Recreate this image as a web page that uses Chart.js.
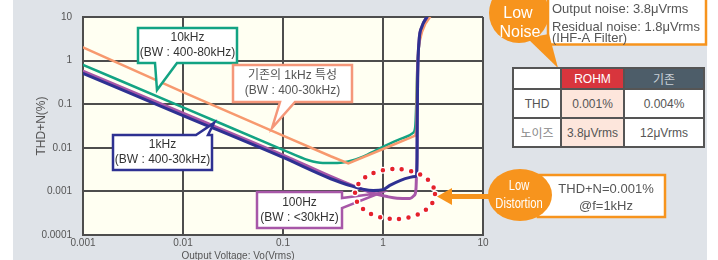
<!DOCTYPE html>
<html>
<head>
<meta charset="utf-8">
<script src="https://cdn.jsdelivr.net/npm/chart.js@4.4.0/dist/chart.umd.min.js"></script>
<style>
  body { margin: 0; background: #fff; font-family: 'Liberation Sans', Arial, 'Noto Sans CJK KR', sans-serif; }
  #wrap { position: relative; width: 718px; height: 260px; overflow: hidden; }
  #panel { position: absolute; left: 13px; top: 0; width: 694px; height: 260px; background: #dfe3e8; }
  #thdChart { position: absolute; left: 0; top: 0; }
  #specTable { position: absolute; left: 512px; top: 67px; border-collapse: collapse; table-layout: fixed; background: #fff; }
  #specTable td { border: 2px solid #555; text-align: center; font-size: 12px; color: #555; padding: 0; }
  #specTable tr:first-child td { height: 19px; }
  #specTable tr td { height: 27px; }
  #specTable td.rohm { background: #d8353d; color: #fff; }
  #specTable td.old { background: #4d5d69; color: #c9d1d8; }
  #specTable td.pink { background: #fde6dc; }
  #specTable td.kr { color: #888; }
</style>
</head>
<body>
<div id="wrap">
  <div id="panel"></div>
  <canvas id="thdChart" width="718" height="260"></canvas>
  <table id="specTable"></table>
</div>
<script>
// Axis ticks
const voTicks = [0.001, 0.01, 0.1, 1, 10];
const voTickLabels = ['0.001', '0.01', '0.1', '1', '10'];
const thdTicks = [0.0001, 0.001, 0.01, 0.1, 1, 10];
const thdTickLabels = ['0.0001', '0.001', '0.01', '0.1', '1', '10'];

// 1kHz (BW : 400-30kHz)
const blueVo  = [0.001, 0.01, 0.1, 0.3, 0.5, 0.65, 0.8, 1.0, 1.17, 1.5, 1.86, 2.1, 2.16, 2.19, 2.2, 2.22, 2.29, 2.45, 2.75];
const blueThd = [0.51, 0.055, 0.006, 0.00195, 0.0013, 0.0011, 0.00105, 0.0011, 0.00137, 0.0018, 0.0021, 0.0022, 0.0023, 0.006, 0.05, 0.4, 2.7, 6, 10];

// 100Hz (BW : <30kHz)
const purpleVo  = [0.001, 0.01, 0.1, 0.3, 0.5, 0.6, 0.73, 0.87, 1.1, 1.38, 1.86, 2.04, 2.1, 2.14, 2.16, 2.19, 2.2, 2.22, 2.29, 2.45, 2.75];
const purpleThd = [0.57, 0.062, 0.0068, 0.0022, 0.00135, 0.00115, 0.00097, 0.00086, 0.00076, 0.0007, 0.00069, 0.0008, 0.00088, 0.0012, 0.0022, 0.006, 0.05, 0.4, 2.7, 6, 10];

// 10kHz (BW : 400-80kHz)
const greenVo  = [0.001, 0.01, 0.1, 0.18, 0.25, 0.35, 0.5, 0.7, 1.0, 1.5, 2.0, 2.1, 2.15, 2.2, 2.3, 2.5, 2.85];
const greenThd = [0.8, 0.085, 0.009, 0.0052, 0.0045, 0.0045, 0.0052, 0.007, 0.0105, 0.016, 0.022, 0.03, 0.1, 0.6, 2.5, 6, 10];

// 기존의 1kHz 특성 (BW : 400-30kHz)
const orangeVo  = [0.001, 0.01, 0.1, 0.3, 0.45, 1.0, 2.1, 2.15, 2.17, 2.2, 2.25, 2.32, 2.45, 2.65, 2.95];
const orangeThd = [2.0, 0.19, 0.019, 0.0064, 0.0044, 0.0094, 0.019, 0.025, 0.12, 0.67, 1.6, 2.7, 4.5, 7, 10];

// comparison table
const tableHead = ['', 'ROHM', '기존'];
const thdRow = ['THD', '0.001%', '0.004%'];
const noiseRow = ['노이즈', '3.8μVrms', '12μVrms'];

const FONT = "'Liberation Sans', Arial, 'Noto Sans CJK KR', sans-serif";
const ORANGE = '#f7941d';

function toPoints(xs, ys) {
    return xs.map((x, i) => ({ x: x, y: ys[i] }));
}

function buildTable() {
    const table = document.getElementById('specTable');
    const widths = [46, 61, 78];
    [tableHead, thdRow, noiseRow].forEach((row, r) => {
        const tr = document.createElement('tr');
        row.forEach((text, c) => {
            const td = document.createElement('td');
            td.textContent = text;
            td.style.width = widths[c] + 'px';
            if (r === 0 && c === 1) td.className = 'rohm';
            else if (r === 0 && c === 2) td.className = 'old';
            else if (r > 0 && c === 1) td.className = 'pink';
            else if (r === 2 && c === 0) td.className = 'kr';
            tr.appendChild(td);
        });
        table.appendChild(tr);
    });
}

// callout box with a pointer, drawn as one outline
function drawCallout(ctx, box, ptr, color, lines, textColor) {
    const { x, y, w, h } = box;
    ctx.beginPath();
    ctx.moveTo(x, y);
    if (ptr.side === 'top') { ctx.lineTo(ptr.a, y); ctx.lineTo(ptr.tx, ptr.ty); ctx.lineTo(ptr.b, y); }
    ctx.lineTo(x + w, y);
    if (ptr.side === 'right') { ctx.lineTo(x + w, ptr.a); ctx.lineTo(ptr.tx, ptr.ty); ctx.lineTo(x + w, ptr.b); }
    ctx.lineTo(x + w, y + h);
    if (ptr.side === 'bottom') { ctx.lineTo(ptr.b, y + h); ctx.lineTo(ptr.tx, ptr.ty); ctx.lineTo(ptr.a, y + h); }
    ctx.lineTo(x, y + h);
    ctx.closePath();
    ctx.fillStyle = '#fff';
    ctx.fill();
    ctx.lineWidth = 2.5;
    ctx.lineJoin = 'miter';
    ctx.strokeStyle = color;
    ctx.stroke();
    ctx.fillStyle = textColor;
    ctx.font = '12px ' + FONT;
    ctx.textAlign = 'center';
    ctx.textBaseline = 'middle';
    const cy = y + h / 2;
    ctx.fillText(lines[0], x + w / 2, cy - 7.5);
    ctx.fillText(lines[1], x + w / 2, cy + 7.5);
}

const annotationPlugin = {
    id: 'annotations',
    beforeDraw(chart) {
        const { ctx, chartArea: a } = chart;
        ctx.save();
        ctx.fillStyle = '#fffff2';
        ctx.fillRect(a.left, a.top, a.right - a.left, a.bottom - a.top);
        ctx.restore();
    },
    afterDatasetsDraw(chart) {
        const ctx = chart.ctx;
        ctx.save();
        drawCallout(ctx, { x: 138, y: 28, w: 99, h: 35 }, { side: 'bottom', a: 155, b: 177, tx: 157, ty: 90 }, '#13a383', ['10kHz', '(BW : 400-80kHz)'], '#333');
        drawCallout(ctx, { x: 233, y: 65, w: 119, h: 37 }, { side: 'bottom', a: 280, b: 295, tx: 272, ty: 128 }, '#f5977a', ['기존의 1kHz 특성', '(BW : 400-30kHz)'], '#555');
        drawCallout(ctx, { x: 113, y: 135, w: 99, h: 35 }, { side: 'top', a: 196, b: 208, tx: 214, ty: 123 }, '#2e3192', ['1kHz', '(BW : 400-30kHz)'], '#333');
        drawCallout(ctx, { x: 257, y: 192, w: 85, h: 36 }, { side: 'right', a: 198, b: 208, tx: 380, ty: 193 }, '#a757a8', ['100Hz', '(BW : <30kHz)'], '#333');

        // dotted ring around the 0.001% region
        ctx.beginPath();
        ctx.ellipse(395, 194, 40, 25, 0, 0, Math.PI * 2);
        ctx.lineCap = 'round';
        ctx.setLineDash([0, 9.5]);
        ctx.strokeStyle = '#fff';
        ctx.lineWidth = 7;
        ctx.stroke();
        ctx.strokeStyle = '#e5222b';
        ctx.lineWidth = 4.5;
        ctx.stroke();
        ctx.setLineDash([]);
        ctx.restore();
    },
    afterDraw(chart) {
        const ctx = chart.ctx;
        ctx.save();
        // x axis title
        ctx.fillStyle = '#555';
        ctx.font = '10px ' + FONT;
        ctx.textAlign = 'center';
        ctx.textBaseline = 'alphabetic';
        ctx.fillText('Output Voltage: Vo(Vrms)', 238, 259);

        // arrow to Low Distortion
        ctx.strokeStyle = ORANGE;
        ctx.fillStyle = ORANGE;
        ctx.lineWidth = 5;
        ctx.beginPath();
        ctx.moveTo(449, 196.5);
        ctx.lineTo(495, 196.5);
        ctx.stroke();
        ctx.beginPath();
        ctx.moveTo(437, 196.5);
        ctx.lineTo(452, 188);
        ctx.lineTo(452, 205);
        ctx.closePath();
        ctx.fill();

        // Low Distortion box + oval
        ctx.fillStyle = '#fff';
        ctx.fillRect(538, 175, 127, 42);
        ctx.lineWidth = 2.5;
        ctx.strokeRect(538, 175, 127, 42);
        ctx.fillStyle = ORANGE;
        ctx.beginPath();
        ctx.ellipse(520, 195, 32, 26, 0, 0, Math.PI * 2);
        ctx.fill();
        ctx.fillStyle = '#555';
        ctx.font = '13px ' + FONT;
        ctx.textBaseline = 'middle';
        ctx.fillText('THD+N=0.001%', 606, 189);
        ctx.fillText('@f=1kHz', 606, 206);
        ctx.fillStyle = '#fff';
        ctx.save();
        ctx.translate(519, 0);
        ctx.scale(0.8, 1);
        ctx.font = '14px ' + FONT;
        ctx.fillText('Low', 0, 186);
        ctx.fillText('Distortion', 0, 204);
        ctx.restore();

        // Low Noise box + circle
        ctx.fillStyle = '#fff';
        ctx.fillRect(548, -3, 159, 48);
        ctx.strokeStyle = ORANGE;
        ctx.lineWidth = 2.5;
        ctx.strokeRect(548, -3, 158, 47.5);
        ctx.fillStyle = ORANGE;
        ctx.beginPath();
        ctx.moveTo(527, 38);
        ctx.lineTo(549, 34);
        ctx.lineTo(558, 68);
        ctx.closePath();
        ctx.fill();
        ctx.beginPath();
        ctx.arc(519, 13, 30, 0, Math.PI * 2);
        ctx.fill();
        ctx.fillStyle = '#fff';
        ctx.font = '16px ' + FONT;
        ctx.fillText('Low', 518, 14);
        ctx.fillText('Noise', 520, 33);
        ctx.fillStyle = '#555';
        ctx.font = '13px ' + FONT;
        ctx.textAlign = 'left';
        ctx.fillText('Output noise: 3.8μVrms', 552, 9);
        ctx.fillText('Residual noise: 1.8μVrms', 552, 27);
        ctx.fillText('(IHF-A Filter)', 552, 38);
        ctx.restore();
    }
};

function createThdChart() {
    const ctx = document.getElementById('thdChart');
    new Chart(ctx, {
        type: 'line',
        data: {
            datasets: [
                { label: '1kHz', data: toPoints(blueVo, blueThd), borderColor: '#2e3192', borderWidth: 3 },
                { label: '100Hz', data: toPoints(purpleVo, purpleThd), borderColor: '#a757a8', borderWidth: 3 },
                { label: '기존 1kHz', data: toPoints(orangeVo, orangeThd), borderColor: '#f7996e', borderWidth: 2.5, tension: 0, cubicInterpolationMode: 'default' },
                { label: '10kHz', data: toPoints(greenVo, greenThd), borderColor: '#13a383', borderWidth: 2.5 }
            ]
        },
        options: {
            responsive: false,
            animation: false,
            devicePixelRatio: 1,
            layout: { padding: { left: 13, right: 235, top: 15, bottom: 0 } },
            elements: {
                point: { radius: 0 },
                line: { cubicInterpolationMode: 'monotone', borderCapStyle: 'round', fill: false }
            },
            plugins: {
                legend: { display: false },
                tooltip: { enabled: false }
            },
            scales: {
                x: {
                    type: 'logarithmic',
                    min: 0.001,
                    max: 10,
                    afterBuildTicks: scale => { scale.ticks = voTicks.map(v => ({ value: v })); },
                    afterFit: scale => { scale.height = 25; },
                    ticks: {
                        callback: (value, index) => voTickLabels[index],
                        color: '#555',
                        font: { family: FONT, size: 10 },
                        padding: 2,
                        maxRotation: 0,
                        autoSkip: false
                    },
                    grid: { color: '#4d4d4d', lineWidth: 2, drawTicks: false },
                    border: { color: '#4d4d4d', width: 2 }
                },
                y: {
                    type: 'logarithmic',
                    min: 0.0001,
                    max: 10,
                    afterBuildTicks: scale => { scale.ticks = thdTicks.map(v => ({ value: v })); },
                    afterFit: scale => { scale.width = 70; },
                    ticks: {
                        callback: (value, index) => thdTickLabels[index],
                        color: '#555',
                        font: { family: FONT, size: 10 },
                        padding: 11,
                        autoSkip: false
                    },
                    title: {
                        display: true,
                        text: 'THD+N(%)',
                        color: '#555',
                        font: { family: FONT, size: 12 },
                        padding: { top: 21, bottom: 0 }
                    },
                    grid: { color: '#4d4d4d', lineWidth: 2, drawTicks: false },
                    border: { color: '#4d4d4d', width: 2 }
                }
            }
        },
        plugins: [annotationPlugin]
    });
}

document.addEventListener("DOMContentLoaded", function () {
    buildTable();
    createThdChart();
});
</script>
</body>
</html>
